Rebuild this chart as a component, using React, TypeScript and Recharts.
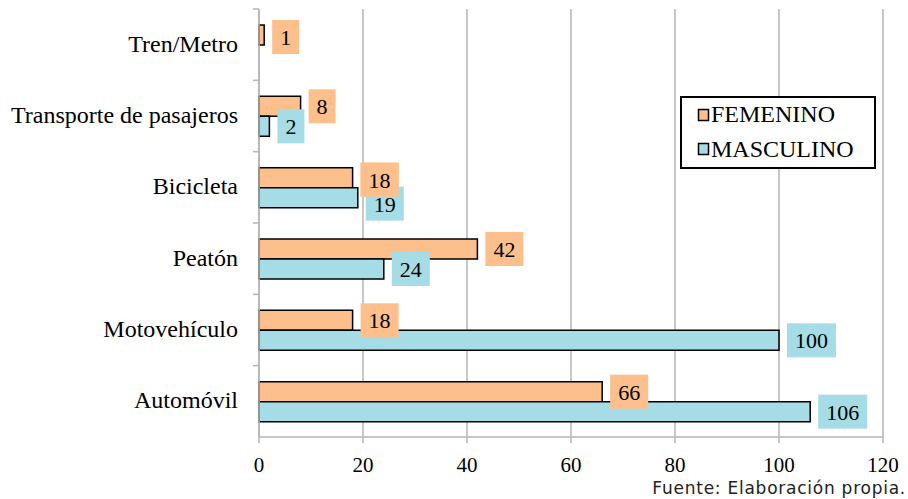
import { BarChart, Bar, XAxis, YAxis, CartesianGrid } from 'recharts';

const categories = ['Tren/Metro', 'Transporte de pasajeros', 'Bicicleta', 'Peatón', 'Motovehículo', 'Automóvil'];
const femenino = [1, 8, 18, 42, 18, 66];
const masculino = [0, 2, 19, 24, 100, 106];
const xTicks = [0, 20, 40, 60, 80, 100, 120];
const legendItems = ['FEMENINO', 'MASCULINO'];

const data = categories.map((name, i) => ({ name, femenino: femenino[i], masculino: masculino[i] }));

const ORANGE = '#fdbf8b';
const BLUE = '#a6dce6';
const GRID = '#b5b5b5';
const SERIF = '"Liberation Serif", "Times New Roman", serif';

const boxWidth = (v: number) => 16 + 11 * String(v).length;

const LabelBox = ({ bx, cy, value, fill }: { bx: number; cy: number; value: number; fill: string }) => {
  const w = boxWidth(value);
  return (
    <g>
      <rect x={bx} y={cy - 17} width={w} height={34} fill={fill} />
      <text x={bx + w / 2} y={cy + 8} textAnchor="middle" fontFamily={SERIF} fontSize={22} fill="#000">
        {value}
      </text>
    </g>
  );
};

// true when the two value boxes of a category would sit on top of each other
const clash = (i: number, pxPerUnit: number) =>
  i >= 0 && Math.abs(femenino[i] - masculino[i]) * pxPerUnit < boxWidth(femenino[i]);

const femLabel = (props: any) => {
  const { x, y, width, height, value } = props;
  if (!value) return null;
  const i = props.payload?.name ? categories.indexOf(props.payload.name) : props.index;
  const shift = clash(i, width / value) ? 2 : 0;
  return <LabelBox bx={x + width + 8} cy={y + height / 2 + shift} value={value} fill={ORANGE} />;
};

const mascLabel = (props: any) => {
  const { x, y, width, height, value } = props;
  if (!value) return null;
  // zero bars are skipped, so look the category up by its (unique) value
  const i = masculino.indexOf(value);
  const scale = width / value;
  if (!clash(i, scale)) {
    return <LabelBox bx={x + width + 8} cy={y + height / 2} value={value} fill={BLUE} />;
  }
  // the FEMENINO box is painted again so it stays in front, as in the source
  return (
    <g>
      <LabelBox bx={x + width + 8} cy={y + height / 2 + 6} value={value} fill={BLUE} />
      <LabelBox bx={x + femenino[i] * scale + 8} cy={y - height / 2 + 2} value={femenino[i]} fill={ORANGE} />
    </g>
  );
};

// category tick, plus the small mark at the top edge of each band
const YTick = (props: any) => {
  const { x, y, payload } = props;
  const half = 35.67;
  return (
    <g>
      <line x1={x + 15} x2={x + 21} y1={y - half} y2={y - half} stroke={GRID} strokeWidth={1.5} />
      <text x={x} y={y + 7} textAnchor="end" fontFamily={SERIF} fontSize={24} fill="#000">
        {payload.value}
      </text>
    </g>
  );
};

const LegendBox = () => (
  <svg style={{ position: 'absolute', left: 0, top: 0 }} width={908} height={499}>
    <rect x={681} y={97} width={194} height={71} fill="#fff" stroke="#000" strokeWidth={2} />
    {legendItems.map((label, i) => (
      <g key={label}>
        <rect x={698.5} y={109.5 + i * 34} width={10} height={11} fill={i === 0 ? ORANGE : BLUE} stroke="#000" strokeWidth={1.5} />
        <text x={711} y={122 + i * 34.5} fontFamily={SERIF} fontSize={24} fill="#000">
          {label}
        </text>
      </g>
    ))}
  </svg>
);

export default function App() {
  return (
    <div style={{ position: 'absolute', left: 0, top: 0, width: 908, height: 499, background: '#fff', overflow: 'hidden' }}>
      <BarChart
        width={908}
        height={499}
        data={data}
        layout="vertical"
        margin={{ top: 9, right: 25, bottom: 0, left: 0 }}
        barSize={20}
        barGap={0}
      >
        <CartesianGrid horizontal={false} vertical stroke={GRID} strokeWidth={1.5} />
        <XAxis
          type="number"
          domain={[0, 120]}
          ticks={xTicks}
          height={62}
          tickSize={6}
          tickMargin={14}
          stroke={GRID}
          strokeWidth={1.5}
          tick={{ fontFamily: SERIF, fontSize: 21, fill: '#000' }}
        />
        <YAxis
          type="category"
          dataKey="name"
          width={259}
          tickSize={0}
          tickMargin={21}
          tickLine={false}
          stroke={GRID}
          strokeWidth={1.5}
          tick={<YTick />}
          interval={0}
        />
        <Bar dataKey="femenino" fill={ORANGE} stroke="#000" strokeWidth={1.5} isAnimationActive={false} label={femLabel} />
        <Bar dataKey="masculino" fill={BLUE} stroke="#000" strokeWidth={1.5} isAnimationActive={false} label={mascLabel} />
      </BarChart>
      <LegendBox />
      <div
        style={{
          position: 'absolute',
          right: 2,
          top: 480,
          fontFamily: '"DejaVu Sans", Verdana, sans-serif',
          fontSize: 17,
          lineHeight: '17px',
          letterSpacing: 0.75,
          color: '#222',
          whiteSpace: 'nowrap',
        }}
      >
        Fuente: Elaboración propia.
      </div>
    </div>
  );
}
